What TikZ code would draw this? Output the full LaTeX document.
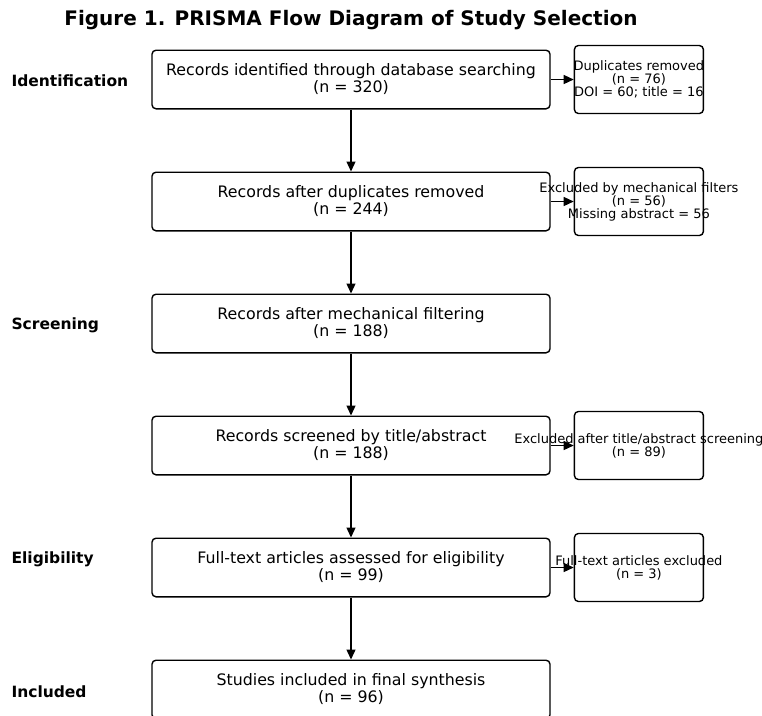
\documentclass[tikz,border=0pt]{standalone}
\usepackage{fontspec}
\setmainfont{DejaVu Sans}
\usetikzlibrary{positioning,arrows.meta}

\begin{document}
\begin{tikzpicture}[x=1pt,y=1pt,
  mainbox/.style={draw,rounded corners=4pt,line width=1.4pt,minimum width=398pt,
    minimum height=58.6pt,align=center,font=\fontsize{15.8}{17}\selectfont},
  sidebox/.style={draw,rounded corners=4pt,line width=1.4pt,minimum width=129pt,
    minimum height=68pt},
  sidetext/.style={align=center,inner sep=0pt,font=\fontsize{13}{13}\selectfont},
  stage/.style={anchor=west,font=\bfseries\fontsize{15.5}{17}\selectfont},
  flow/.style={-{Triangle[length=10pt,width=9pt]},line width=1.3pt},
  node distance=62pt]

  \clip (0,0) rectangle (762,-715);

  \node[font=\bfseries\fontsize{20}{22}\selectfont] (title) at (351,-20)
    {Figure 1. PRISMA Flow Diagram of Study Selection};

  % main column
  \node[mainbox] (ident) at (351,-79.5) {Records identified through database searching\\(n = 320)};
  \node[mainbox,below=of ident] (dedup) {Records after duplicates removed\\(n = 244)};
  \node[mainbox,below=of dedup] (mech) {Records after mechanical filtering\\(n = 188)};
  \node[mainbox,below=of mech] (screen) {Records screened by title/abstract\\(n = 188)};
  \node[mainbox,below=of screen] (full) {Full-text articles assessed for eligibility\\(n = 99)};
  \node[mainbox,below=of full] (incl) {Studies included in final synthesis\\(n = 96)};

  % exclusion boxes
  \node[sidebox,right=23pt of ident] (dup) {};
  \node[sidetext] at (dup) {Duplicates removed\\(n = 76)\\DOI = 60; title = 16};
  \node[sidebox,right=23pt of dedup] (mechx) {};
  \node[sidetext] at (mechx) {Excluded by mechanical filters\\(n = 56)\\Missing abstract = 56};
  \node[sidebox,right=23pt of screen] (screenx) {};
  \node[sidetext] at (screenx) {Excluded after title/abstract screening\\(n = 89)};
  \node[sidebox,right=23pt of full] (fullx) {};
  \node[sidetext] at (fullx) {Full-text articles excluded\\(n = 3)};

  % stage labels
  \node[stage] (lident) at (8,-81) {Identification};
  \node[stage] (lscreen) at (8,-325) {Screening};
  \node[stage] (lelig) at (8,-559) {Eligibility};
  \node[stage] (lincl) at (8,-692) {Included};

  % arrows
  \foreach \a/\b in {ident/dedup,dedup/mech,mech/screen,screen/full,full/incl}
    \draw[flow] (\a) -- (\b);
  \foreach \a/\b in {ident/dup,dedup/mechx,screen/screenx,full/fullx}
    \draw[flow] (\a) -- (\b);

\end{tikzpicture}
\end{document}
